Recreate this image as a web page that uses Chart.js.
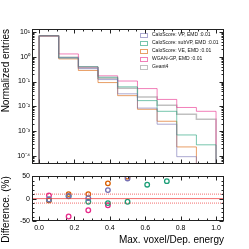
<!DOCTYPE html>
<html>
<head>
<meta charset="utf-8">
<script src="https://cdn.jsdelivr.net/npm/chart.js@4.4.1/dist/chart.umd.min.js"></script>
<style>
    html, body { margin: 0; padding: 0; background: #fff; }
    #wrap { position: relative; width: 249px; height: 249px; }
    #topChart { position: absolute; left: 0; top: 0; }
    #diffChart { position: absolute; left: 0; top: 170px; }
</style>
</head>
<body>
<div id="wrap">
    <canvas id="topChart" width="249" height="170"></canvas>
    <canvas id="diffChart" width="249" height="79"></canvas>
</div>
<script>
// Histogram binning (9 bins on [0, 1])
const binEdges = [0, 0.111, 0.222, 0.333, 0.444, 0.556, 0.667, 0.778, 0.889, 1.0];
const binCenters = [0.056, 0.167, 0.278, 0.389, 0.5, 0.611, 0.722, 0.833, 0.944];

const seriesNames = [
    'CaloScore: VP, EMD :0.01',
    'CaloScore: subVP, EMD :0.01',
    'CaloScore: VE, EMD :0.01',
    'WGAN-GP, EMD :0.01',
    'Geant4'
];

// Normalized entries per bin (0 = empty bin)
const vpEntries    = [7.0, 0.90, 0.33, 0.120, 0.032, 0.0085, 0.0019, 0.000093, 0];
const subvpEntries = [7.0, 0.90, 0.40, 0.150, 0.061, 0.017, 0.0063, 0.0007, 0.00028];
const veEntries    = [7.0, 0.82, 0.28, 0.091, 0.027, 0.0076, 0.0025, 0.00023, 0];
const wganEntries  = [6.9, 1.30, 0.39, 0.170, 0.105, 0.052, 0.019, 0.009, 0.0063];
const geantEntries = [7.0, 0.95, 0.36, 0.135, 0.054, 0.024, 0.011, 0.0048, 0.003];

// Difference (%) per bin, null = not shown
const vpDiff    = [-2, 6, 1, 19, 45, null, null, null, null];
const subvpDiff = [-2, 5, -7, -10, -7, 31, 39, null, null];
const veDiff    = [-4, 10, 10, 34, 49, null, null, null, null];
const wganDiff  = [7, -40, -26, -15, null, null, null, null, null];

const refLevels = [0, 10, -10];

const xMin = -0.04, xMax = 1.045;
const yTickValues = [1e-4, 1e-3, 1e-2, 1e-1, 1, 10];
const yTickLabels = ['10\u207B\u2074', '10\u207B\u00B3', '10\u207B\u00B2', '10\u207B\u00B9', '10\u2070', '10\u00B9'];
const xTickValues = [0, 0.2, 0.4, 0.6, 0.8, 1.0];
const xTickLabels = ['0.0', '0.2', '0.4', '0.6', '0.8', '1.0'];
const diffTickValues = [-50, 0, 50];
const diffTickLabels = ['-50', '0', '50'];

const lineColors = ['rgba(117,112,179,0.6)', 'rgba(27,158,119,0.6)', 'rgba(217,95,2,0.6)', 'rgba(231,41,138,0.6)', 'rgba(140,140,140,0.55)'];
const markerColors = ['#7570b3', '#1b9e77', '#d95f02', '#e7298a'];
const FONT = 'Liberation Sans';
const FLOOR = 1e-7;

function stepPoints(values) {
    const pts = [{ x: binEdges[0], y: FLOOR }];
    values.forEach((v, i) => pts.push({ x: binEdges[i], y: v > 0 ? v : FLOOR }));
    pts.push({ x: binEdges[binEdges.length - 1], y: FLOOR });
    return pts;
}

// ROOT-like frame with inward ticks
const framePlugin = {
    id: 'frame',
    afterDraw(chart, args, opts) {
        const { ctx, chartArea: a } = chart;
        const xs = chart.scales.x, ys = chart.scales.y;
        const L = Math.round(a.left) + 0.5, R = Math.round(a.right) - 0.5;
        const T = Math.round(a.top) + 0.5, B = Math.round(a.bottom) - 0.5;
        ctx.save();
        ctx.strokeStyle = '#222';
        ctx.lineWidth = 1;
        ctx.strokeRect(L, T, R - L, B - T);
        ctx.beginPath();
        for (let v = 0; v <= 1.0001; v += 0.05) {
            const px = Math.round(xs.getPixelForValue(v)) + 0.5;
            const len = Math.abs(v / 0.2 - Math.round(v / 0.2)) < 1e-6 ? 4 : 2;
            ctx.moveTo(px, B); ctx.lineTo(px, B - len);
            ctx.moveTo(px, T); ctx.lineTo(px, T + len);
        }
        const yTicks = [];
        if (opts.log) {
            for (let e = -5; e <= 1; e++) {
                for (let m = 1; m <= 9; m++) yTicks.push({ v: m * Math.pow(10, e), major: m === 1 });
            }
        } else {
            for (let v = -50; v <= 50; v += 10) yTicks.push({ v, major: v % 50 === 0 });
        }
        yTicks.forEach(t => {
            if (t.v < ys.min || t.v > ys.max) return;
            const py = Math.round(ys.getPixelForValue(t.v)) + 0.5;
            const len = t.major ? 4 : 2;
            ctx.moveTo(L, py); ctx.lineTo(L + len, py);
            ctx.moveTo(R, py); ctx.lineTo(R - len, py);
        });
        ctx.stroke();
        ctx.restore();
    }
};

const legendPlugin = {
    id: 'boxLegend',
    afterDatasetsDraw(chart) {
        const ctx = chart.ctx;
        ctx.save();
        ctx.font = '5px "' + FONT + '"';
        ctx.textBaseline = 'middle';
        ctx.textAlign = 'left';
        chart.data.datasets.forEach((ds, i) => {
            const y = 35 + i * 7.9;
            ctx.strokeStyle = ds.borderColor;
            ctx.lineWidth = 1;
            ctx.strokeRect(140.5, Math.round(y - 2) + 0.5, 7, 4);
            ctx.fillStyle = '#111';
            ctx.fillText(ds.label, 152, y);
        });
        ctx.restore();
    }
};

const entries = [vpEntries, subvpEntries, veEntries, wganEntries, geantEntries];

new Chart(document.getElementById('topChart'), {
    type: 'line',
    data: {
        datasets: entries.map((vals, i) => ({
            label: seriesNames[i],
            data: stepPoints(vals),
            borderColor: lineColors[i],
            borderWidth: i === 4 ? 1.5 : 1,
            stepped: 'before',
            pointRadius: 0,
            fill: false,
            clip: 0
        }))
    },
    options: {
        responsive: false,
        animation: false,
        events: [],
        layout: { padding: { left: 0, right: 25, top: 29, bottom: 5 } },
        plugins: { legend: { display: false }, tooltip: { enabled: false }, frame: { log: true } },
        scales: {
            x: { type: 'linear', min: xMin, max: xMax, display: false },
            y: {
                type: 'logarithmic',
                min: 4.8e-5,
                max: 13.2,
                afterFit: s => { s.width = 32; },
                afterBuildTicks: s => { s.ticks = yTickValues.map(v => ({ value: v })); },
                grid: { display: false, drawTicks: false },
                border: { display: false },
                ticks: {
                    autoSkip: false,
                    padding: 2,
                    color: '#000',
                    font: { family: FONT, size: 7 },
                    callback: (v) => {
                        const i = yTickValues.findIndex(t => Math.abs(t - v) / t < 1e-6);
                        return i >= 0 ? yTickLabels[i] : '';
                    }
                },
                title: {
                    display: true,
                    text: 'Normalized entries',
                    align: 'end',
                    color: '#000',
                    padding: 0,
                    font: { family: FONT, size: 10 }
                }
            }
        }
    },
    plugins: [framePlugin, legendPlugin]
});

const diffs = [vpDiff, subvpDiff, veDiff, wganDiff];
const diffSets = diffs.map((vals, i) => ({
    type: 'scatter',
    label: seriesNames[i],
    data: binCenters.map((x, k) => ({ x, y: vals[k] })).filter(p => p.y !== null),
    borderColor: markerColors[i],
    backgroundColor: 'rgba(0,0,0,0)',
    pointRadius: 2.3,
    borderWidth: 1.3,
    clip: 0
}));
const refSets = refLevels.map(lv => ({
    type: 'line',
    data: [{ x: xMin, y: lv }, { x: xMax, y: lv }],
    borderColor: 'rgba(240,60,60,0.75)',
    borderWidth: 1,
    borderDash: lv === 0 ? [] : [1, 1],
    pointRadius: 0,
    fill: false
}));

new Chart(document.getElementById('diffChart'), {
    type: 'scatter',
    data: { datasets: refSets.concat(diffSets) },
    options: {
        responsive: false,
        animation: false,
        events: [],
        layout: { padding: { left: 0, right: 25, top: 4, bottom: 0 } },
        plugins: { legend: { display: false }, tooltip: { enabled: false }, frame: { log: false } },
        scales: {
            x: {
                type: 'linear',
                min: xMin,
                max: xMax,
                afterFit: s => { s.height = 28; },
                afterBuildTicks: s => { s.ticks = xTickValues.map(v => ({ value: v })); },
                grid: { display: false, drawTicks: false },
                border: { display: false },
                ticks: {
                    autoSkip: false,
                    maxRotation: 0,
                    padding: 3,
                    color: '#000',
                    font: { family: FONT, size: 7 },
                    callback: (v, i) => xTickLabels[i]
                },
                title: {
                    display: true,
                    text: 'Max. voxel/Dep. energy',
                    align: 'end',
                    color: '#000',
                    padding: { top: 0, bottom: 3 },
                    font: { family: FONT, size: 10 }
                }
            },
            y: {
                type: 'linear',
                min: -50,
                max: 50,
                afterFit: s => { s.width = 32; },
                afterBuildTicks: s => { s.ticks = diffTickValues.map(v => ({ value: v })); },
                grid: { display: false, drawTicks: false },
                border: { display: false },
                ticks: {
                    autoSkip: false,
                    padding: 2,
                    color: '#000',
                    font: { family: FONT, size: 7 },
                    callback: (v, i) => diffTickLabels[i]
                },
                title: {
                    display: true,
                    text: 'Difference. (%)',
                    align: 'end',
                    color: '#000',
                    padding: 0,
                    font: { family: FONT, size: 10 }
                }
            }
        }
    },
    plugins: [framePlugin]
});
</script>
</body>
</html>
